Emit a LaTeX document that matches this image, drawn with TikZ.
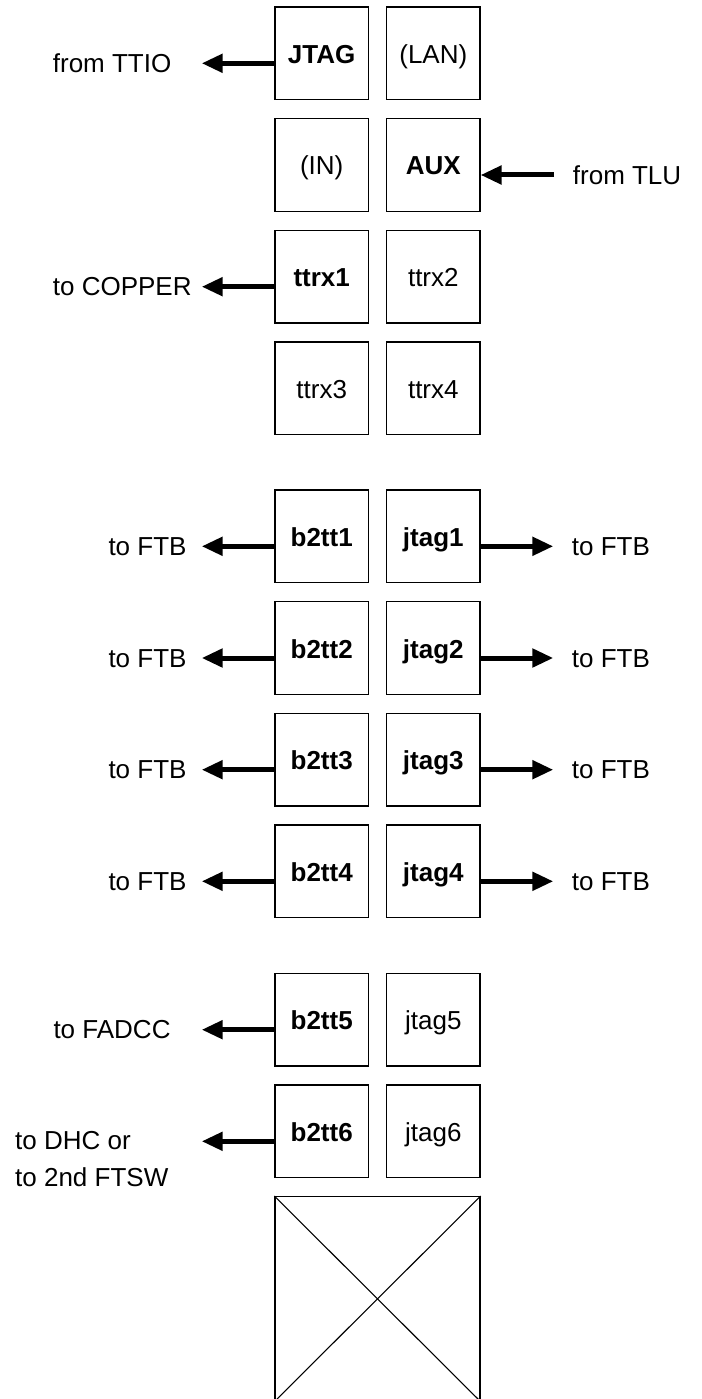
\documentclass[tikz,border=0pt]{standalone}
\usepackage{fontspec}
\setmainfont{Liberation Sans}
\usetikzlibrary{arrows.meta}
\begin{document}
\begin{tikzpicture}[x=1pt,y=-1pt,
  box/.style={draw, line width=1.3pt, minimum width=93.3pt, minimum height=92.7pt,
    inner sep=0pt, text height=20pt, text depth=0pt, font=\fontsize{26}{30}\selectfont},
  bbox/.style={box, font=\fontsize{26}{30}\selectfont\bfseries},
  arr/.style={line width=5pt, -{Triangle[length=21pt,width=18pt]}},
  lbl/.style={anchor=base west, inner sep=0pt, font=\fontsize{26}{30}\selectfont}]
\useasboundingbox (0,0) rectangle (701,1399);

% group 1
\node[bbox] (jtag)  at (321.7,53.3)  {JTAG};
\node[box]  (lan)   at (433.3,53.3)  {(LAN)};
\node[box]  (in)    at (321.7,165)   {(IN)};
\node[bbox] (aux)   at (433.3,165)   {AUX};
\node[bbox] (ttrx1) at (321.7,276.7) {ttrx1};
\node[box]  (ttrx2) at (433.3,276.7) {ttrx2};
\node[box]  (ttrx3) at (321.7,388.3) {ttrx3};
\node[box]  (ttrx4) at (433.3,388.3) {ttrx4};

% group 2
\node[bbox] (b1) at (321.7,536.3) {b2tt1};
\node[bbox] (j1) at (433.3,536.3) {jtag1};
\node[bbox] (b2) at (321.7,648)   {b2tt2};
\node[bbox] (j2) at (433.3,648)   {jtag2};
\node[bbox] (b3) at (321.7,759.7) {b2tt3};
\node[bbox] (j3) at (433.3,759.7) {jtag3};
\node[bbox] (b4) at (321.7,871.3) {b2tt4};
\node[bbox] (j4) at (433.3,871.3) {jtag4};

% group 3
\node[bbox] (b5) at (321.7,1019.7) {b2tt5};
\node[box]  (j5) at (433.3,1019.7) {jtag5};
\node[bbox] (b6) at (321.7,1131.3) {b2tt6};
\node[box]  (j6) at (433.3,1131.3) {jtag6};

% crossed box
\node[draw, line width=1.3pt, minimum width=205pt, minimum height=204.3pt, inner sep=0pt]
  (xbox) at (377.5,1298.85) {};
\draw[line width=1.1pt] (xbox.north west) -- (xbox.south east);
\draw[line width=1.1pt] (xbox.north east) -- (xbox.south west);

% arrow end points
\coordinate (tJTAG) at (201.7,63.3);
\coordinate (sAUX)  at (554,175);
\coordinate (tTTRX) at (201.7,286.7);
\coordinate (tb1) at (201.7,546.3);
\coordinate (tb2) at (201.7,658);
\coordinate (tb3) at (201.7,769.7);
\coordinate (tb4) at (201.7,881.3);
\coordinate (tj1) at (553.3,546.3);
\coordinate (tj2) at (553.3,658);
\coordinate (tj3) at (553.3,769.7);
\coordinate (tj4) at (553.3,881.3);
\coordinate (tb5) at (201.7,1029.7);
\coordinate (tb6) at (201.7,1141.3);

% arrows
\draw[arr] ([yshift=-10pt]jtag.west) -- (tJTAG);
\draw[arr] (sAUX) -- ([yshift=-10pt]aux.east);
\draw[arr] ([yshift=-10pt]ttrx1.west) -- (tTTRX);
\foreach \i in {1,2,3,4}{
  \draw[arr] ([yshift=-10pt]b\i.west) -- (tb\i);
  \draw[arr] ([yshift=-10pt]j\i.east) -- (tj\i);
}
\draw[arr] ([yshift=-10pt]b5.west) -- (tb5);
\draw[arr] ([yshift=-10pt]b6.west) -- (tb6);

% labels
\node[lbl] (lTTIO) at (52.7,72.5) {from TTIO};
\node[lbl] (lTLU)  at (572.7,184.2) {from TLU};
\node[lbl] (lCOP)  at (52.7,295.9) {to COPPER};
\node[lbl] (lb1) at (108.3,555.5) {to FTB};
\node[lbl] (lb2) at (108.3,667.2) {to FTB};
\node[lbl] (lb3) at (108.3,778.9) {to FTB};
\node[lbl] (lb4) at (108.3,890.5) {to FTB};
\node[lbl] (lj1) at (571.7,555.5) {to FTB};
\node[lbl] (lj2) at (571.7,667.2) {to FTB};
\node[lbl] (lj3) at (571.7,778.9) {to FTB};
\node[lbl] (lj4) at (571.7,890.5) {to FTB};
\node[lbl] (lFAD) at (53.3,1038.9) {to FADCC};
\node[anchor=north west, inner sep=0pt, align=left, font=\fontsize{26}{36.7}\selectfont]
  (lDHC) at (15,1131.6) {to DHC or\\to 2nd FTSW};
\end{tikzpicture}
\end{document}
